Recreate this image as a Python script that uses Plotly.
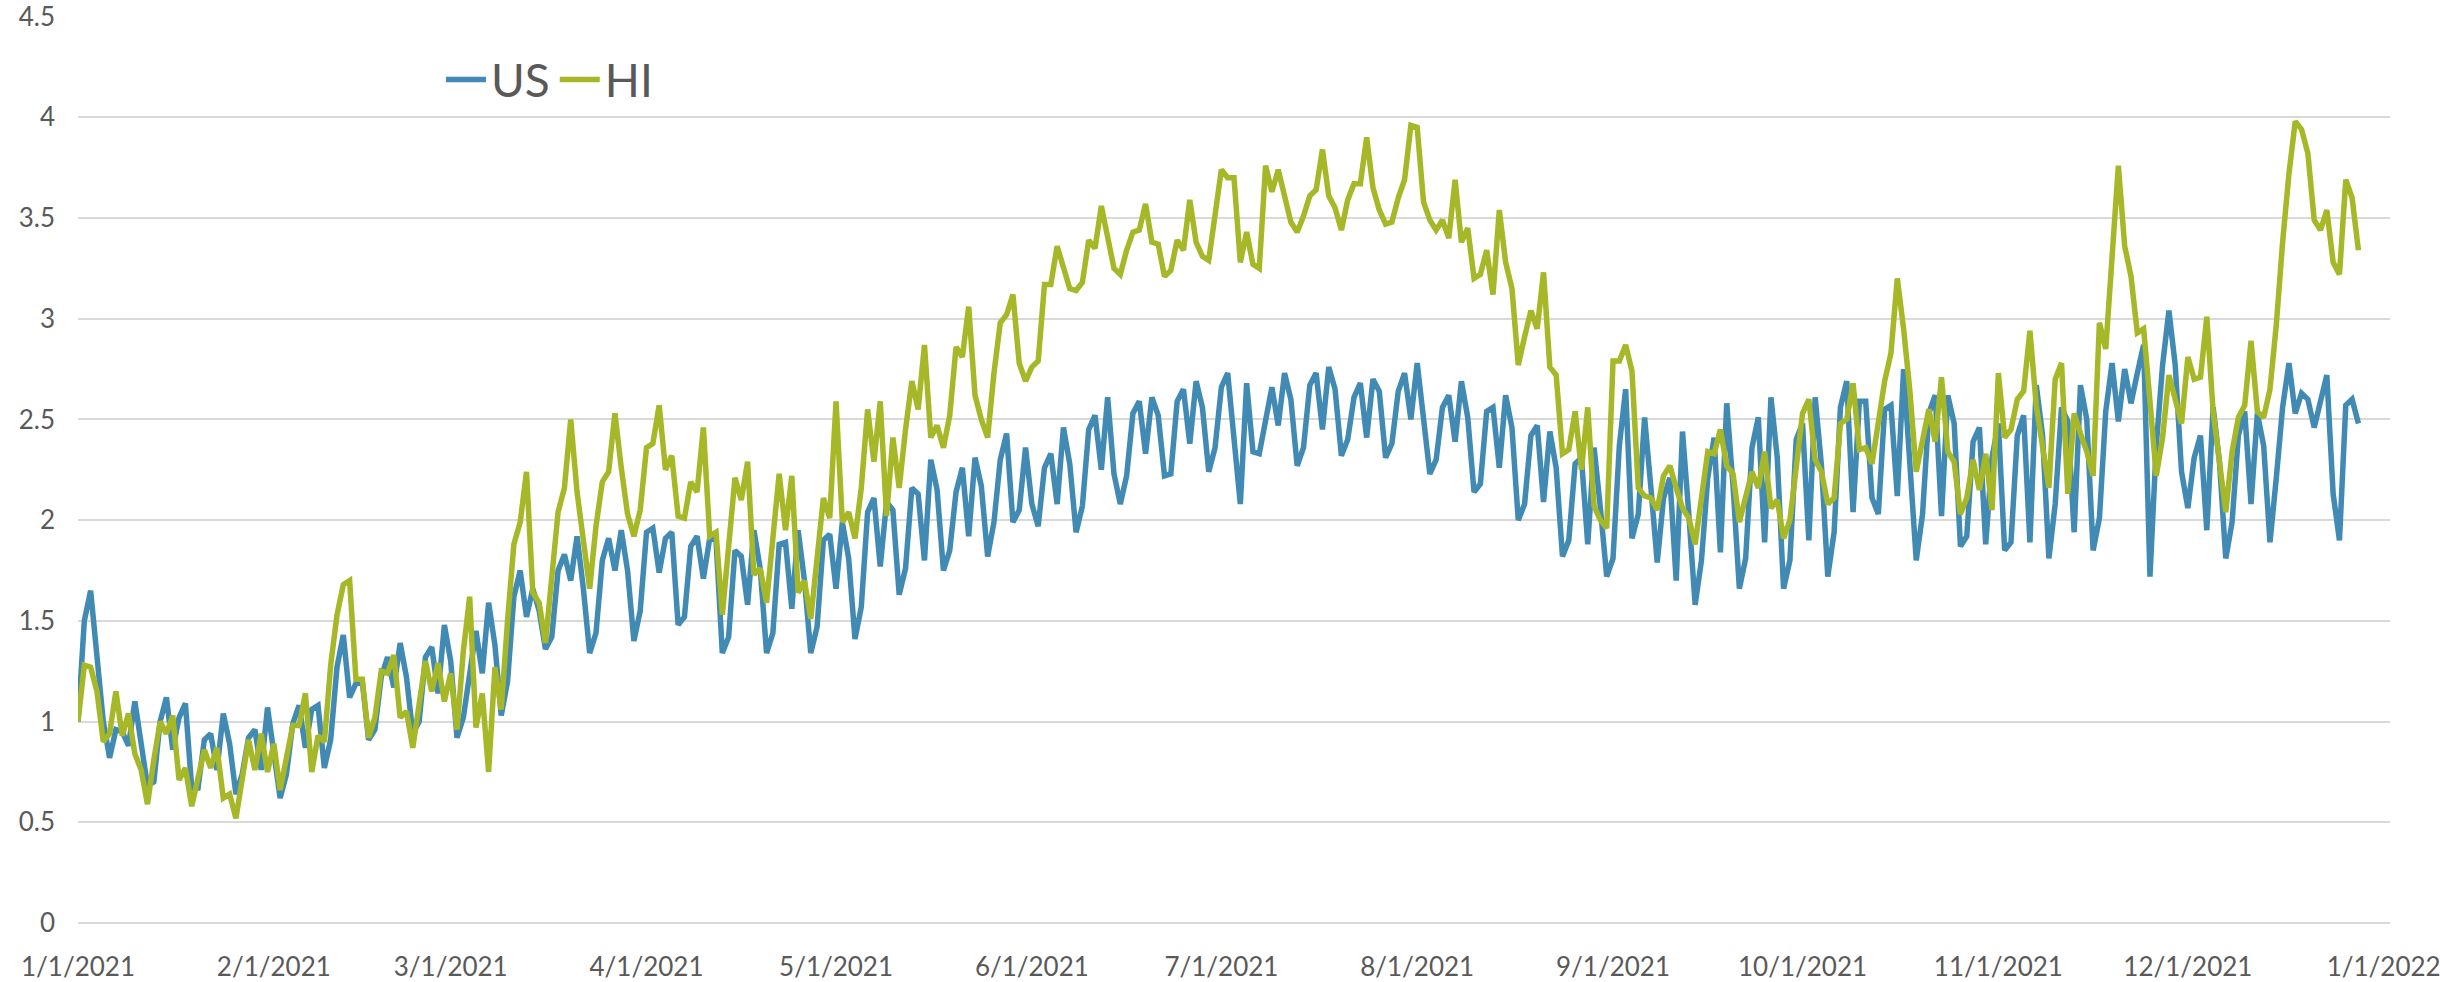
import pandas as pd
import plotly.graph_objects as go

US = [
    1.00, 1.50, 1.65, 1.33, 1.00, 0.82, 0.96, 0.95, 0.88, 1.10,
    0.89, 0.68, 0.70, 1.00, 1.12, 0.86, 1.02, 1.09, 0.67, 0.67,
    0.91, 0.94, 0.76, 1.04, 0.89, 0.64, 0.74, 0.92, 0.96, 0.76,
    1.07, 0.82, 0.62, 0.74, 0.99, 1.08, 0.87, 1.06, 1.08, 0.77,
    0.91, 1.27, 1.43, 1.12, 1.19, 1.20, 0.91, 0.96, 1.22, 1.32,
    1.17, 1.39, 1.22, 0.94, 1.00, 1.32, 1.37, 1.14, 1.48, 1.30,
    0.92, 1.02, 1.25, 1.45, 1.24, 1.59, 1.38, 1.03, 1.20, 1.62,
    1.75, 1.52, 1.66, 1.55, 1.36, 1.42, 1.75, 1.83, 1.70, 1.92,
    1.66, 1.34, 1.44, 1.80, 1.91, 1.75, 1.95, 1.75, 1.40, 1.55,
    1.94, 1.96, 1.74, 1.91, 1.94, 1.48, 1.52, 1.87, 1.92, 1.71,
    1.91, 1.90, 1.34, 1.42, 1.85, 1.82, 1.58, 1.95, 1.76, 1.34,
    1.44, 1.88, 1.89, 1.56, 1.95, 1.70, 1.34, 1.47, 1.90, 1.93,
    1.66, 1.99, 1.81, 1.41, 1.57, 2.04, 2.11, 1.77, 2.09, 2.05,
    1.63, 1.76, 2.16, 2.13, 1.80, 2.30, 2.15, 1.75, 1.85, 2.14,
    2.26, 1.92, 2.31, 2.17, 1.82, 1.99, 2.30, 2.43, 1.99, 2.05,
    2.36, 2.08, 1.97, 2.26, 2.33, 2.08, 2.46, 2.28, 1.94, 2.07,
    2.45, 2.52, 2.25, 2.61, 2.23, 2.08, 2.22, 2.53, 2.59, 2.33,
    2.61, 2.52, 2.22, 2.23, 2.59, 2.65, 2.38, 2.69, 2.56, 2.24,
    2.36, 2.66, 2.73, 2.41, 2.08, 2.68, 2.34, 2.33, 2.51, 2.66,
    2.47, 2.73, 2.60, 2.27, 2.36, 2.67, 2.73, 2.45, 2.76, 2.65,
    2.32, 2.40, 2.61, 2.68, 2.41, 2.70, 2.64, 2.31, 2.38, 2.64,
    2.73, 2.50, 2.78, 2.51, 2.23, 2.30, 2.56, 2.62, 2.39, 2.69,
    2.51, 2.14, 2.18, 2.54, 2.56, 2.26, 2.62, 2.46, 2.00, 2.08,
    2.42, 2.47, 2.09, 2.44, 2.26, 1.82, 1.90, 2.28, 2.31, 1.88,
    2.36, 2.06, 1.72, 1.81, 2.37, 2.65, 1.91, 2.03, 2.51, 2.16,
    1.79, 2.11, 2.21, 1.70, 2.44, 2.03, 1.58, 1.80, 2.21, 2.41,
    1.84, 2.58, 2.17, 1.66, 1.81, 2.36, 2.51, 1.89, 2.61, 2.31,
    1.66, 1.80, 2.40, 2.48, 1.90, 2.61, 2.27, 1.72, 1.94, 2.56,
    2.69, 2.04, 2.59, 2.59, 2.11, 2.03, 2.55, 2.57, 2.12, 2.75,
    2.27, 1.80, 2.03, 2.53, 2.62, 2.02, 2.62, 2.48, 1.87, 1.92,
    2.39, 2.46, 1.88, 2.31, 2.48, 1.85, 1.89, 2.42, 2.52, 1.89,
    2.67, 2.42, 1.81, 2.08, 2.56, 2.49, 1.94, 2.67, 2.50, 1.85,
    2.01, 2.54, 2.78, 2.49, 2.75, 2.58, 2.73, 2.87, 1.72, 2.37,
    2.77, 3.04, 2.77, 2.24, 2.06, 2.31, 2.42, 1.95, 2.56, 2.29,
    1.81, 1.99, 2.42, 2.54, 2.08, 2.53, 2.37, 1.89, 2.21, 2.56,
    2.78, 2.53, 2.63, 2.60, 2.46, 2.59, 2.72, 2.13, 1.90, 2.57,
    2.60, 2.48,
]

HI = [
    1.00, 1.28, 1.27, 1.15, 0.90, 0.94, 1.15, 0.93, 1.04, 0.84,
    0.76, 0.59, 0.81, 1.00, 0.94, 1.03, 0.71, 0.77, 0.58, 0.71,
    0.86, 0.77, 0.87, 0.62, 0.64, 0.52, 0.71, 0.91, 0.76, 0.94,
    0.75, 0.89, 0.66, 0.82, 0.98, 0.98, 1.14, 0.75, 0.93, 0.90,
    1.28, 1.53, 1.68, 1.70, 1.21, 1.21, 0.92, 1.02, 1.25, 1.24,
    1.33, 1.02, 1.05, 0.87, 1.10, 1.30, 1.15, 1.29, 1.10, 1.24,
    0.96, 1.35, 1.62, 0.97, 1.14, 0.75, 1.27, 1.06, 1.50, 1.88,
    1.99, 2.24, 1.64, 1.59, 1.39, 1.72, 2.04, 2.16, 2.50, 2.14,
    1.90, 1.66, 1.97, 2.19, 2.24, 2.53, 2.26, 2.03, 1.92, 2.05,
    2.36, 2.38, 2.57, 2.25, 2.32, 2.02, 2.01, 2.19, 2.14, 2.46,
    1.92, 1.94, 1.53, 1.86, 2.21, 2.10, 2.29, 1.73, 1.76, 1.59,
    1.91, 2.23, 1.95, 2.22, 1.64, 1.70, 1.51, 1.81, 2.11, 2.01,
    2.59, 1.99, 2.04, 1.91, 2.16, 2.55, 2.29, 2.59, 2.02, 2.41,
    2.16, 2.45, 2.69, 2.55, 2.87, 2.41, 2.47, 2.36, 2.52, 2.86,
    2.81, 3.06, 2.62, 2.50, 2.41, 2.73, 2.98, 3.02, 3.12, 2.78,
    2.69, 2.76, 2.79, 3.17, 3.17, 3.36, 3.25, 3.15, 3.14, 3.18,
    3.39, 3.35, 3.56, 3.40, 3.25, 3.22, 3.34, 3.43, 3.44, 3.57,
    3.38, 3.37, 3.21, 3.24, 3.39, 3.34, 3.59, 3.38, 3.31, 3.29,
    3.52, 3.74, 3.70, 3.70, 3.28, 3.43, 3.27, 3.25, 3.76, 3.63,
    3.74, 3.62, 3.48, 3.43, 3.51, 3.61, 3.64, 3.84, 3.61, 3.55,
    3.44, 3.59, 3.67, 3.67, 3.90, 3.65, 3.54, 3.47, 3.48, 3.60,
    3.69, 3.96, 3.95, 3.58, 3.49, 3.44, 3.49, 3.40, 3.69, 3.38,
    3.45, 3.20, 3.22, 3.34, 3.12, 3.54, 3.28, 3.15, 2.77, 2.91,
    3.04, 2.95, 3.23, 2.76, 2.72, 2.33, 2.35, 2.54, 2.25, 2.56,
    2.07, 2.00, 1.96, 2.79, 2.79, 2.87, 2.74, 2.16, 2.12, 2.11,
    2.05, 2.22, 2.27, 2.16, 2.06, 2.01, 1.88, 2.11, 2.34, 2.33,
    2.45, 2.27, 2.23, 1.99, 2.11, 2.24, 2.16, 2.34, 2.06, 2.10,
    1.91, 2.00, 2.26, 2.53, 2.60, 2.30, 2.24, 2.08, 2.11, 2.48,
    2.50, 2.68, 2.35, 2.36, 2.28, 2.49, 2.69, 2.83, 3.20, 2.95,
    2.64, 2.24, 2.39, 2.55, 2.39, 2.71, 2.34, 2.29, 2.03, 2.11,
    2.30, 2.15, 2.33, 2.05, 2.73, 2.41, 2.45, 2.60, 2.64, 2.94,
    2.57, 2.34, 2.16, 2.70, 2.78, 2.13, 2.53, 2.43, 2.34, 2.22,
    2.98, 2.85, 3.29, 3.76, 3.36, 3.21, 2.93, 2.95, 2.59, 2.22,
    2.41, 2.72, 2.60, 2.48, 2.81, 2.70, 2.71, 3.01, 2.54, 2.26,
    2.04, 2.34, 2.51, 2.57, 2.89, 2.54, 2.51, 2.65, 2.97, 3.38,
    3.72, 3.98, 3.94, 3.82, 3.49, 3.44, 3.54, 3.28, 3.22, 3.69,
    3.60, 3.34,
]

START_DATE = "2021-01-01"
dates = pd.date_range(START_DATE, periods=len(US), freq="D")

Y_TICKS = [0, 0.5, 1, 1.5, 2, 2.5, 3, 3.5, 4, 4.5]

BLUE = "#418AB3"
GREEN = "#A6B727"
GRID = "#D9D9D9"
TEXT = "#595959"
FONT = "Lato, 'Open Sans', sans-serif"

fig = go.Figure()
fig.add_trace(go.Scatter(x=dates, y=US, name="US", mode="lines",
                         line=dict(color=BLUE, width=5.5)))
fig.add_trace(go.Scatter(x=dates, y=HI, name="HI", mode="lines",
                         line=dict(color=GREEN, width=5.5)))

fig.update_layout(
    width=2440, height=982,
    margin=dict(l=78, r=50, t=16, b=59),
    paper_bgcolor="white", plot_bgcolor="white",
    font=dict(family=FONT, color=TEXT, size=26),
    showlegend=True,
    legend=dict(orientation="h", x=0.157, y=0.93, xanchor="left", yanchor="middle",
                font=dict(size=46, color=TEXT), bgcolor="rgba(0,0,0,0)",
                itemwidth=40, tracegroupgap=0),
)
fig.update_xaxes(
    type="date", range=["2021-01-01", "2022-01-02"],
    tick0="2021-01-01", dtick="M1", tickformat="%-m/%-d/%Y",
    showgrid=False, showline=False, zeroline=False, ticks="",
    ticklabelstandoff=26, ticklabeloverflow="allow",
    tickfont=dict(size=26, color=TEXT), automargin=False,
)
fig.update_yaxes(
    range=[0, 4.503], tickvals=Y_TICKS, ticktext=[f"{v:g}" for v in Y_TICKS],
    showgrid=True, gridcolor=GRID, gridwidth=2,
    zeroline=True, zerolinecolor=GRID, zerolinewidth=2,
    showline=False, ticks="", ticklabelstandoff=22, ticklabeloverflow="allow",
    tickfont=dict(size=26, color=TEXT), automargin=False,
)

fig.write_html("out.html",
               config={"displayModeBar": False},
               post_script="document.body.style.margin='0';document.body.style.padding='0';")
